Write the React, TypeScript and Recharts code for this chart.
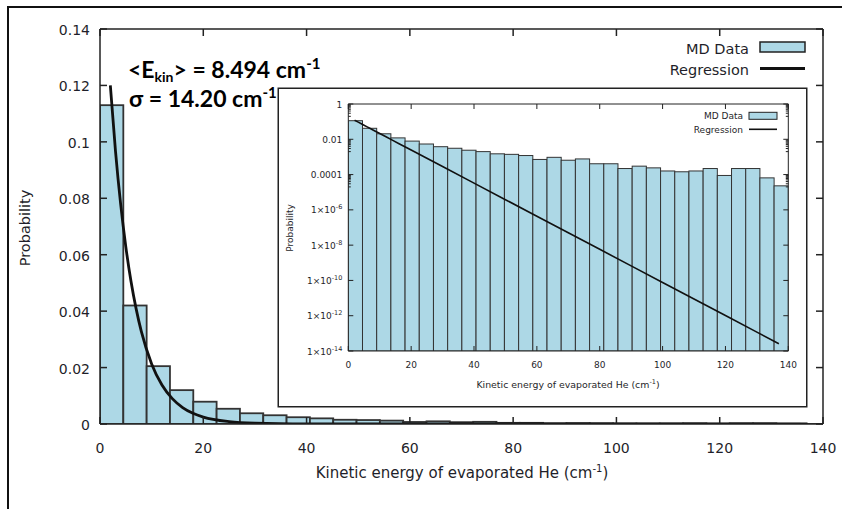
import React from 'react';
import { ComposedChart, Bar, Line, XAxis, YAxis } from 'recharts';

// ---------- data ----------
const binEnergy = [
  2.258, 6.774, 11.29, 15.806, 20.323, 24.839, 29.355, 33.871, 38.387, 42.903,
  47.419, 51.935, 56.452, 60.968, 65.484, 70.0, 74.516, 79.032, 83.548, 88.065,
  92.581, 97.097, 101.613, 106.129, 110.645, 115.161, 119.677, 124.194, 128.71,
  133.226, 137.742,
];
const mdProbability = [
  0.113, 0.042, 0.0205, 0.012, 0.0079, 0.0054, 0.0038, 0.0031, 0.0024, 0.002,
  0.0015, 0.0014, 0.0012, 0.00072, 0.00095, 0.00065, 0.00077, 0.00041, 0.00041,
  0.00022, 0.0003, 0.00024, 0.00016, 0.000144, 0.00016, 0.00022, 0.000089,
  0.00022, 0.00022, 0.000065, 0.000023,
];
const regressionEnergy = [
  2, 3, 4, 5, 6, 7, 8, 10, 12, 14, 16, 18, 20, 25, 30, 40, 50, 60, 70, 80, 90,
  100, 110, 120, 130, 137,
];
const regressionProbability = [
  0.12, 0.0967, 0.0779, 0.0628, 0.0506, 0.0408, 0.0328, 0.0213, 0.0138, 0.00898,
  0.00583, 0.00378, 0.00246, 0.000838, 0.000284, 3.27e-5, 3.78e-6, 4.36e-7,
  5.02e-8, 5.8e-9, 6.69e-10, 7.7e-11, 8.9e-12, 1.03e-12, 1.18e-13, 2.6e-14,
];
const xTicks = [0, 20, 40, 60, 80, 100, 120, 140];
const mainYTicks = [0, 0.02, 0.04, 0.06, 0.08, 0.1, 0.12, 0.14];
const insetMajorTicks = [1, 1e-2, 1e-4, 1e-6, 1e-8, 1e-10, 1e-12, 1e-14];
const insetMinorTicks = [
  0.9, 0.8, 0.7, 0.6, 0.5, 0.4, 0.3, 0.2,
  0.009, 0.008, 0.007, 0.006, 0.005, 0.004, 0.003, 0.002,
  0.00009, 0.00008, 0.00007, 0.00006, 0.00005, 0.00004, 0.00003, 0.00002,
];
const annotationMean = '8.494';
const annotationSigma = '14.20';

const histData = binEnergy.map((e, i) => ({ e, p: mdProbability[i] }));
const regData = regressionEnergy.map((e, i) => ({ e, p: regressionProbability[i] }));

// ---------- styles ----------
const FONT = 'DejaVu Sans, Verdana, sans-serif';
const TXT = '#1f1f2a';
const AX = '#222';
const FILL = '#add8e6';
const BAR_STROKE = '#333';
const NBINS = binEnergy.length;

// main plot geometry
const W = 842;
const H = 509;
const M_LEFT = 100;
const M_RIGHT = 823;
const M_TOP = 29;
const M_BOTTOM = 424;
const MAIN_BIN_W = (M_RIGHT - M_LEFT) / NBINS;

// inset geometry
const I_X = 279;
const I_Y = 89;
const I_W = 527;
const I_H = 317;
const I_LEFT = 69.3;
const I_RIGHT = 509.3;
const I_TOP = 15;
const I_BOTTOM = 262;
const INSET_BIN_W = (I_RIGHT - I_LEFT) / NBINS;

const binShape = (bw: number, sw: number) => (props: any) => {
  const { x, y, width, height } = props;
  if (x == null || y == null) return <g />;
  const cx = x + width / 2;
  const h = Math.max(height, 0);
  return (
    <rect
      x={cx - bw / 2}
      y={y}
      width={bw}
      height={h}
      fill={FILL}
      stroke={BAR_STROKE}
      strokeWidth={sw}
    />
  );
};

// ---------- main ticks ----------
const MainBottomTick = (props: any) => {
  const { x, y, payload } = props;
  return (
    <g>
      <line x1={x} x2={x} y1={y} y2={y - 7} stroke={AX} strokeWidth={1.5} />
      <text x={x} y={y + 29} textAnchor="middle" fontFamily={FONT} fontSize={14} fill={TXT}>
        {payload.value}
      </text>
    </g>
  );
};
const MainTopTick = (props: any) => {
  const { x, y } = props;
  return <line x1={x} x2={x} y1={y} y2={y + 7} stroke={AX} strokeWidth={1.5} />;
};
const MainLeftTick = (props: any) => {
  const { x, y, payload } = props;
  const label = String(Number(Number(payload.value).toFixed(2)));
  return (
    <g>
      <line x1={x} x2={x + 7} y1={y} y2={y} stroke={AX} strokeWidth={1.5} />
      <text x={x - 10} y={y + 6} textAnchor="end" fontFamily={FONT} fontSize={14} fill={TXT}>
        {label}
      </text>
    </g>
  );
};
const MainRightTick = (props: any) => {
  const { x, y } = props;
  return <line x1={x} x2={x - 7} y1={y} y2={y} stroke={AX} strokeWidth={1.5} />;
};

// ---------- inset ticks ----------
const isMajor = (v: number) => insetMajorTicks.some((m) => Math.abs(Math.log10(m) - Math.log10(v)) < 1e-6);

const InsetBottomTick = (props: any) => {
  const { x, y, payload } = props;
  return (
    <g>
      <line x1={x} x2={x} y1={y} y2={y - 5} stroke={AX} strokeWidth={1} />
      <text x={x} y={y + 17} textAnchor="middle" fontFamily={FONT} fontSize={9} fill={TXT}>
        {payload.value}
      </text>
    </g>
  );
};
const InsetTopTick = (props: any) => {
  const { x, y } = props;
  return <line x1={x} x2={x} y1={y} y2={y + 5} stroke={AX} strokeWidth={1} />;
};
const InsetLeftTick = (props: any) => {
  const { x, y, payload } = props;
  const v = Number(payload.value);
  const major = isMajor(v);
  const exp = Math.round(Math.log10(v));
  let label: any = null;
  if (major) {
    if (exp >= -4) {
      label = (
        <text x={x - 6} y={y + 3.5} textAnchor="end" fontFamily={FONT} fontSize={9} fill={TXT}>
          {exp === 0 ? '1' : exp === -2 ? '0.01' : '0.0001'}
        </text>
      );
    } else {
      label = (
        <text x={x - 6} y={y + 3.5} textAnchor="end" fontFamily={FONT} fontSize={9} fill={TXT}>
          1×10
          <tspan dy={-4} fontSize={6.5}>
            {String(exp)}
          </tspan>
        </text>
      );
    }
  }
  return (
    <g>
      <line x1={x} x2={x + (major ? 5 : 2.5)} y1={y} y2={y} stroke={AX} strokeWidth={1} />
      {label}
    </g>
  );
};
const InsetRightTick = (props: any) => {
  const { x, y, payload } = props;
  const major = isMajor(Number(payload.value));
  return <line x1={x} x2={x - (major ? 5 : 2.5)} y1={y} y2={y} stroke={AX} strokeWidth={1} />;
};

const allInsetTicks = [...insetMajorTicks, ...insetMinorTicks];

export default function App() {
  return (
    <div style={{ position: 'absolute', left: 0, top: 0, width: W, height: H, background: '#fff', overflow: 'hidden' }}>
      {/* main chart */}
      <div style={{ position: 'absolute', left: 0, top: 0 }}>
        <ComposedChart
          width={W}
          height={H}
          data={histData}
          margin={{ top: M_TOP - 1, right: W - M_RIGHT - 1, left: 0, bottom: 0 }}
        >
          <XAxis
            xAxisId="b"
            dataKey="e"
            type="number"
            domain={[0, 140]}
            ticks={xTicks}
            allowDataOverflow
            height={H - M_BOTTOM}
            tickSize={0}
            tickMargin={0}
            tick={<MainBottomTick />}
            axisLine={{ stroke: AX, strokeWidth: 1.5 }}
            tickLine={false}
            interval={0}
          />
          <XAxis
            xAxisId="t"
            orientation="top"
            dataKey="e"
            type="number"
            domain={[0, 140]}
            ticks={xTicks}
            allowDataOverflow
            height={1}
            tickSize={0}
            tickMargin={0}
            tick={<MainTopTick />}
            axisLine={{ stroke: AX, strokeWidth: 1.5 }}
            tickLine={false}
            interval={0}
          />
          <YAxis
            yAxisId="l"
            type="number"
            domain={[0, 0.14]}
            ticks={mainYTicks}
            allowDataOverflow
            width={M_LEFT}
            tickSize={0}
            tickMargin={0}
            tick={<MainLeftTick />}
            axisLine={{ stroke: AX, strokeWidth: 1.5 }}
            tickLine={false}
            interval={0}
          />
          <YAxis
            yAxisId="r"
            orientation="right"
            type="number"
            domain={[0, 0.14]}
            ticks={mainYTicks}
            allowDataOverflow
            width={1}
            tickSize={0}
            tickMargin={0}
            tick={<MainRightTick />}
            axisLine={{ stroke: AX, strokeWidth: 1.5 }}
            tickLine={false}
            interval={0}
          />
          <Bar
            dataKey="p"
            xAxisId="b"
            yAxisId="l"
            isAnimationActive={false}
            shape={binShape(MAIN_BIN_W, 1.8)}
          />
          <Line
            data={regData}
            dataKey="p"
            xAxisId="b"
            yAxisId="l"
            type="monotone"
            stroke="#111"
            strokeWidth={2.8}
            dot={false}
            activeDot={false}
            isAnimationActive={false}
          />
        </ComposedChart>
      </div>

      {/* main overlay: border, titles, legend, annotation */}
      <svg width={W} height={H} style={{ position: 'absolute', left: 0, top: 0, pointerEvents: 'none' }}>
        <path d={`M 8 ${H} V 7 H ${W}`} fill="none" stroke="#111" strokeWidth={2} />
        <text x={462} y={478} textAnchor="middle" fontFamily={FONT} fontSize={15} fill={TXT}>
          Kinetic energy of evaporated He (cm
          <tspan dy={-6} fontSize={10}>-1</tspan>
          <tspan dy={6} fontSize={15}>)</tspan>
        </text>
        <text
          x={25}
          y={228}
          transform="rotate(-90 25 228)"
          textAnchor="middle"
          dominantBaseline="central"
          fontFamily={FONT}
          fontSize={14.5}
          fill={TXT}
        >
          Probability
        </text>
        {/* legend */}
        <text x={749} y={54} textAnchor="end" fontFamily={FONT} fontSize={14.5} fill={TXT}>
          MD Data
        </text>
        <rect x={760} y={42} width={45} height={10} fill={FILL} stroke="#222" strokeWidth={1.5} />
        <text x={749} y={75} textAnchor="end" fontFamily={FONT} fontSize={14.5} fill={TXT}>
          Regression
        </text>
        <line x1={760} x2={805} y1={68.5} y2={68.5} stroke="#111" strokeWidth={2.8} />
        {/* annotation */}
        <text x={128} y={78} fontFamily="Lato, Carlito, sans-serif" fontWeight={700} fontSize={23} fill="#000">
          {'<E'}
          <tspan dy={3.5} fontSize={14}>kin</tspan>
          <tspan dy={-3.5} fontSize={23}>{`> = ${annotationMean} cm`}</tspan>
          <tspan dy={-9} fontSize={15}>-1</tspan>
        </text>
        <text x={129} y={107} fontFamily="Lato, Carlito, sans-serif" fontWeight={700} fontSize={23} fill="#000">
          {`σ = ${annotationSigma} cm`}
          <tspan dy={-9} fontSize={15}>-1</tspan>
        </text>
      </svg>

      {/* inset */}
      <div
        style={{
          position: 'absolute',
          left: I_X,
          top: I_Y,
          width: I_W,
          height: I_H,
          background: '#fff',
          boxShadow: '0 0 0 1.5px #222',
        }}
      >
        <ComposedChart
          width={I_W}
          height={I_H}
          data={histData}
          margin={{ top: I_TOP - 1, right: I_W - I_RIGHT - 1, left: 0, bottom: 0 }}
        >
          <XAxis
            xAxisId="b"
            dataKey="e"
            type="number"
            domain={[0, 140]}
            ticks={xTicks}
            allowDataOverflow
            height={I_H - I_BOTTOM}
            tickSize={0}
            tickMargin={0}
            tick={<InsetBottomTick />}
            axisLine={{ stroke: AX, strokeWidth: 1 }}
            tickLine={false}
            interval={0}
          />
          <XAxis
            xAxisId="t"
            orientation="top"
            dataKey="e"
            type="number"
            domain={[0, 140]}
            ticks={xTicks}
            allowDataOverflow
            height={1}
            tickSize={0}
            tickMargin={0}
            tick={<InsetTopTick />}
            axisLine={{ stroke: AX, strokeWidth: 1 }}
            tickLine={false}
            interval={0}
          />
          <YAxis
            yAxisId="l"
            type="number"
            scale="log"
            domain={[1e-14, 1]}
            ticks={allInsetTicks}
            allowDataOverflow
            width={I_LEFT}
            tickSize={0}
            tickMargin={0}
            tick={<InsetLeftTick />}
            axisLine={{ stroke: AX, strokeWidth: 1 }}
            tickLine={false}
            interval={0}
          />
          <YAxis
            yAxisId="r"
            orientation="right"
            type="number"
            scale="log"
            domain={[1e-14, 1]}
            ticks={allInsetTicks}
            allowDataOverflow
            width={1}
            tickSize={0}
            tickMargin={0}
            tick={<InsetRightTick />}
            axisLine={{ stroke: AX, strokeWidth: 1 }}
            tickLine={false}
            interval={0}
          />
          <Bar
            dataKey="p"
            xAxisId="b"
            yAxisId="l"
            isAnimationActive={false}
            shape={binShape(INSET_BIN_W, 1)}
          />
          <Line
            data={regData}
            dataKey="p"
            xAxisId="b"
            yAxisId="l"
            type="linear"
            stroke="#111"
            strokeWidth={1.6}
            dot={false}
            activeDot={false}
            isAnimationActive={false}
          />
        </ComposedChart>
        <svg width={I_W} height={I_H} style={{ position: 'absolute', left: 0, top: 0, pointerEvents: 'none' }}>
          <text x={289} y={298.5} textAnchor="middle" fontFamily={FONT} fontSize={9.4} fill={TXT}>
            Kinetic energy of evaporated He (cm
            <tspan dy={-4} fontSize={6.5}>-1</tspan>
            <tspan dy={4} fontSize={9.4}>)</tspan>
          </text>
          <text
            x={11}
            y={139}
            transform="rotate(-90 11 139)"
            textAnchor="middle"
            dominantBaseline="central"
            fontFamily={FONT}
            fontSize={9}
            fill={TXT}
          >
            Probability
          </text>
          <text x={464} y={30} textAnchor="end" fontFamily={FONT} fontSize={9} fill={TXT}>
            MD Data
          </text>
          <rect x={470} y={23.3} width={28} height={7} fill={FILL} stroke="#222" strokeWidth={1} />
          <text x={464} y={43.5} textAnchor="end" fontFamily={FONT} fontSize={9} fill={TXT}>
            Regression
          </text>
          <line x1={470} x2={498} y1={40.3} y2={40.3} stroke="#111" strokeWidth={1.6} />
        </svg>
      </div>
    </div>
  );
}
